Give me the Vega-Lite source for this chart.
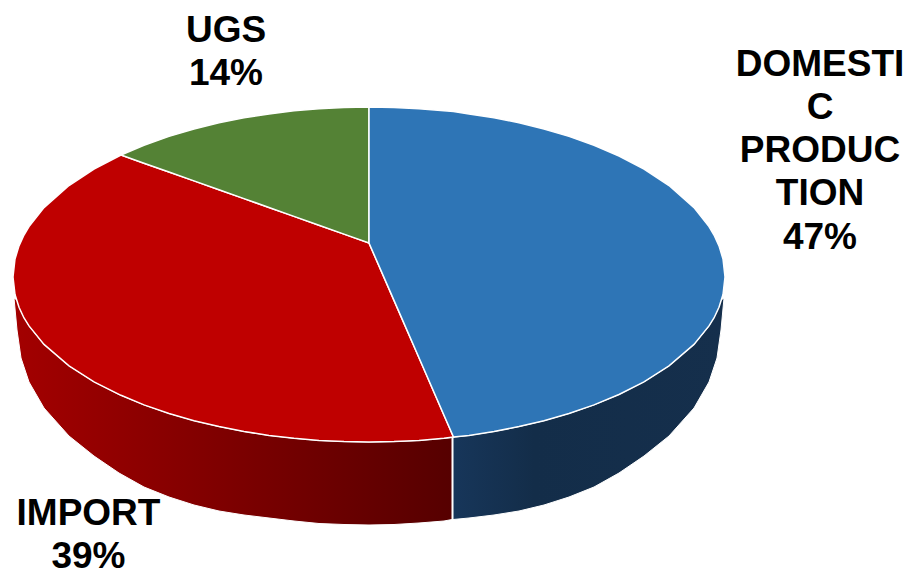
{
"$schema":"https://vega.github.io/schema/vega-lite/v6.json",
"width":909,"height":572,"padding":0,
"autosize":{"type":"none"},
"background":"white",
"view":{"stroke":null},
"datasets":{
"importSide":[{"x":14,"y":298,"y2":298},{"x":17,"y":300,"y2":330},{"x":21,"y":311,"y2":358},{"x":29,"y":326,"y2":382},{"x":44,"y":344.4,"y2":408},{"x":69,"y":365.8,"y2":436},{"x":94,"y":381.8,"y2":456},{"x":119,"y":394.5,"y2":473},{"x":144,"y":404.9,"y2":487},{"x":169,"y":413.5,"y2":497},{"x":194,"y":420.7,"y2":505},{"x":219,"y":426.6,"y2":511},{"x":244,"y":431.5,"y2":515},{"x":269,"y":435.4,"y2":518},{"x":294,"y":438.3,"y2":521},{"x":319,"y":440.4,"y2":523.5},{"x":344,"y":441.6,"y2":524.5},{"x":369,"y":442,"y2":525},{"x":394,"y":441.6,"y2":524.5},{"x":419,"y":440.4,"y2":523},{"x":444,"y":438.3,"y2":521},{"x":452,"y":437.6,"y2":519.5}],
"domesticSide":[{"x":453,"y":437.3,"y2":519.5},{"x":469,"y":435.4,"y2":518},{"x":494,"y":431.5,"y2":515},{"x":519,"y":426.6,"y2":511},{"x":544,"y":420.7,"y2":505},{"x":569,"y":413.5,"y2":497},{"x":594,"y":404.9,"y2":487},{"x":619,"y":394.5,"y2":473},{"x":644,"y":381.8,"y2":456},{"x":669,"y":365.8,"y2":436},{"x":694,"y":344.4,"y2":408},{"x":709,"y":326,"y2":382},{"x":717,"y":311,"y2":358},{"x":721,"y":300,"y2":330},{"x":724,"y":298,"y2":298}],
"importTop":[{"x":13,"y":277,"y2":277},{"x":15,"y":259,"y2":294.5},{"x":19,"y":245.9,"y2":307.2},{"x":24,"y":235,"y2":318},{"x":29,"y":226.6,"y2":325.9},{"x":44,"y":207.6,"y2":344.4},{"x":69,"y":185.5,"y2":365.8},{"x":94,"y":169,"y2":381.8},{"x":121,"y":155,"y2":395.3},{"x":144,"y":163.2,"y2":404.9},{"x":169,"y":172,"y2":413.5},{"x":194,"y":180.9,"y2":420.7},{"x":219,"y":189.8,"y2":426.6},{"x":244,"y":198.6,"y2":431.5},{"x":269,"y":207.5,"y2":435.4},{"x":294,"y":216.4,"y2":438.3},{"x":319,"y":225.3,"y2":440.4},{"x":344,"y":234.1,"y2":441.6},{"x":369,"y":243,"y2":442},{"x":394,"y":300.4,"y2":441.6},{"x":419,"y":357.8,"y2":440.4},{"x":444,"y":415.2,"y2":438.3},{"x":453.5,"y":437,"y2":437}],
"ugsTop":[{"x":121,"y":155,"y2":155},{"x":144,"y":145.3,"y2":163.2},{"x":169,"y":136.4,"y2":172},{"x":194,"y":129,"y2":180.9},{"x":219,"y":122.8,"y2":189.8},{"x":244,"y":117.8,"y2":198.6},{"x":269,"y":113.9,"y2":207.5},{"x":294,"y":110.8,"y2":216.4},{"x":319,"y":108.7,"y2":225.3},{"x":344,"y":107.4,"y2":234.1},{"x":369,"y":107,"y2":243}],
"domesticTop":[{"x":369,"y":107,"y2":243},{"x":394,"y":107.4,"y2":300.4},{"x":419,"y":108.7,"y2":357.8},{"x":444,"y":110.8,"y2":415.2},{"x":453.5,"y":111.5,"y2":437},{"x":469,"y":113.9,"y2":435.4},{"x":494,"y":117.8,"y2":431.5},{"x":519,"y":122.8,"y2":426.6},{"x":544,"y":129,"y2":420.7},{"x":569,"y":136.4,"y2":413.5},{"x":594,"y":145.3,"y2":404.9},{"x":619,"y":156,"y2":394.5},{"x":644,"y":169,"y2":381.8},{"x":669,"y":185.5,"y2":365.8},{"x":694,"y":207.6,"y2":344.4},{"x":709,"y":226.6,"y2":325.9},{"x":714,"y":235,"y2":318},{"x":719,"y":245.9,"y2":307.2},{"x":723,"y":259,"y2":294.5},{"x":725,"y":277,"y2":277}],
"labels":[{"x":820,"y":75.5,"label":"DOMESTI\nC\nPRODUC\nTION\n47%"},{"x":226,"y":41.5,"label":"UGS\n14%"},{"x":88.5,"y":524.5,"label":"IMPORT\n39%"}]
},
"encoding":{
"x":{"field":"x","type":"quantitative","scale":{"domain":[0,909],"nice":false,"zero":false},"axis":null},
"y":{"field":"y","type":"quantitative","scale":{"domain":[572,0],"nice":false,"zero":false},"axis":null,"stack":null}
},
"layer":[
{"data":{"name":"importSide"},"mark":{"type":"area","orient":"vertical","stroke":"#ffffff","strokeWidth":1,"color":{"gradient":"linear","x1":0,"y1":0,"x2":1,"y2":0,"stops":[{"offset":0,"color":"#a30000"},{"offset":1,"color":"#560000"}]}},"encoding":{"y2":{"field":"y2"}}},
{"data":{"name":"domesticSide"},"mark":{"type":"area","orient":"vertical","stroke":"#ffffff","strokeWidth":1,"color":{"gradient":"linear","x1":0,"y1":0,"x2":1,"y2":0,"stops":[{"offset":0,"color":"#17365a"},{"offset":0.3,"color":"#132d49"},{"offset":1,"color":"#152f4c"}]}},"encoding":{"y2":{"field":"y2"}}},
{"data":{"name":"importTop"},"mark":{"type":"area","orient":"vertical","color":"#bf0000","stroke":"#ffffff","strokeWidth":1.5},"encoding":{"y2":{"field":"y2"}}},
{"data":{"name":"ugsTop"},"mark":{"type":"area","orient":"vertical","color":"#548235","stroke":"#ffffff","strokeWidth":1.5},"encoding":{"y2":{"field":"y2"}}},
{"data":{"name":"domesticTop"},"mark":{"type":"area","orient":"vertical","color":"#2e75b6","stroke":"#ffffff","strokeWidth":1.5},"encoding":{"y2":{"field":"y2"}}},
{"data":{"name":"labels"},"mark":{"type":"text","font":"Liberation Sans","fontWeight":"bold","fontSize":37,"color":"#000000","align":"center","baseline":"alphabetic","lineBreak":"\n","lineHeight":43.3},"encoding":{"text":{"field":"label","type":"nominal"}}}
]
}
